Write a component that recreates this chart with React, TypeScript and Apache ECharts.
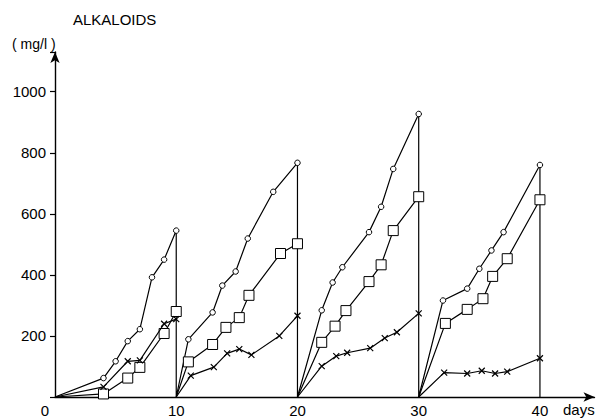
import React, { useEffect, useRef } from "react";
import * as echarts from "echarts";

// [day, mg/l] — each culture period restarts at 0 after the drop
const circleData: number[][] = [
  [0, 0], [4, 62], [5, 117], [6, 183], [7, 222], [8, 392], [9, 450], [10, 545], [10, 0],
  [11, 189], [13, 277], [13.8, 365], [14.9, 411], [15.9, 519], [18, 672], [20, 767], [20, 0],
  [22, 284], [22.9, 375], [23.7, 425], [25.9, 540], [26.9, 623], [27.9, 747], [30, 927], [30, 0],
  [32, 316], [34, 355], [35, 420], [36, 480], [37, 540], [40, 760], [40, 0],
];
const squareData: number[][] = [
  [0, 0], [4, 10], [6, 62], [7, 97], [9, 208], [10, 280], [10, 0],
  [11, 115], [13, 172], [14.1, 228], [15.2, 260], [16, 333], [18.6, 470], [20, 502], [20, 0],
  [22, 179], [23.1, 232], [24, 283], [25.9, 378], [26.9, 433], [27.9, 545], [30, 656], [30, 0],
  [32.2, 241], [34, 287], [35.3, 322], [36.1, 395], [37.3, 453], [40, 646], [40, 0],
];
const crossData: number[][] = [
  [0, 0], [4, 33], [6, 117], [7, 120], [9, 240], [10, 255], [10, 0],
  [11.2, 70], [13.1, 98], [14.2, 143], [15.2, 157], [16.2, 138], [18.5, 200], [20, 266], [20, 0],
  [22, 101], [23.2, 134], [24.1, 145], [26, 160], [27.2, 193], [28.2, 212], [30, 274], [30, 0],
  [32.1, 80], [34, 77], [35.2, 86], [36.3, 77], [37.3, 83], [40, 127], [40, 0],
];
const xTickLabels = [0, 10, 20, 30, 40];
const yTickLabels = [200, 400, 600, 800, 1000];

const FONT = "Liberation Sans";

// drawDrop: whether this series draws the vertical drop to 0 (only the top series does,
// the others break the line so the drop stays a single thin stroke)
function toItems(d: number[][], drawDrop: boolean) {
  const out: any[] = [];
  d.forEach(([x, y], i) => {
    if (y === 0 && i > 0 && !drawDrop) out.push({ value: [x, "-"] });
    out.push(y === 0 ? { value: [x, y], symbol: "none" } : { value: [x, y] });
  });
  return out;
}

export default function App() {
  const ref = useRef<HTMLDivElement>(null);
  useEffect(() => {
    if (!ref.current) return;
    const chart = echarts.init(ref.current, null, { renderer: "svg" });
    const baseSeries = {
      type: "line" as const,
      lineStyle: { color: "#000", width: 1.2 },
      itemStyle: { color: "#fff", borderColor: "#000", borderWidth: 1 },
      showAllSymbol: true,
      connectNulls: false,
      silent: true,
    };
    chart.setOption({
      animation: false,
      grid: { left: 55, right: 5.5, top: 52, bottom: 21, containLabel: false },
      xAxis: {
        type: "value",
        min: 0,
        max: 44.5,
        interval: 10,
        splitLine: { show: false },
        axisTick: { show: false },
        axisLine: {
          symbol: ["none", "arrow"],
          symbolSize: [7, 11],
          lineStyle: { color: "#000", width: 1.4 },
        },
        axisLabel: {
          color: "#000",
          fontSize: 15,
          fontFamily: FONT,
          margin: 6,
          formatter: (v: number) =>
            xTickLabels.includes(v) ? (v === 0 ? "{z|0}" : String(v)) : "",
          rich: {
            z: { fontSize: 15, fontFamily: FONT, color: "#000", padding: [0, 20, 4, 0] },
          },
        },
      },
      yAxis: {
        type: "value",
        min: 0,
        max: 1130,
        interval: 200,
        splitLine: { show: false },
        axisTick: { show: true, length: 5, lineStyle: { color: "#000", width: 1.2 } },
        axisLine: {
          symbol: ["none", "arrow"],
          symbolSize: [7, 11],
          lineStyle: { color: "#000", width: 1.4 },
        },
        axisLabel: {
          color: "#000",
          fontSize: 15,
          fontFamily: FONT,
          margin: 9,
          formatter: (v: number) => (yTickLabels.includes(v) ? String(v) : ""),
        },
      },
      graphic: [
        {
          type: "text",
          left: 73,
          top: 12,
          style: { text: "ALKALOIDS", fontSize: 15, fontFamily: FONT, fill: "#000" },
        },
        {
          type: "text",
          left: 12,
          top: 37,
          style: { text: "( mg/l )", fontSize: 14, fontFamily: FONT, fill: "#000" },
        },
        {
          type: "text",
          left: 563,
          top: 402,
          style: { text: "days", fontSize: 15, fontFamily: FONT, fill: "#000" },
        },
      ],
      series: [
        { ...baseSeries, name: "circles", symbol: "circle", symbolSize: 5.5, data: toItems(circleData, true), z: 3 },
        { ...baseSeries, name: "squares", symbol: "rect", symbolSize: 10, data: toItems(squareData, false), z: 4 },
        {
          ...baseSeries,
          name: "crosses",
          symbol: "path://M0,0L10,10M10,0L0,10",
          symbolSize: 6,
          itemStyle: { color: "none", borderColor: "#000", borderWidth: 1.2 },
          data: toItems(crossData, false),
          z: 5,
        },
      ],
    });
    return () => chart.dispose();
  }, []);
  return (
    <div
      ref={ref}
      style={{ position: "absolute", left: 0, top: 0, width: 600, height: 418, background: "#fff" }}
    />
  );
}
